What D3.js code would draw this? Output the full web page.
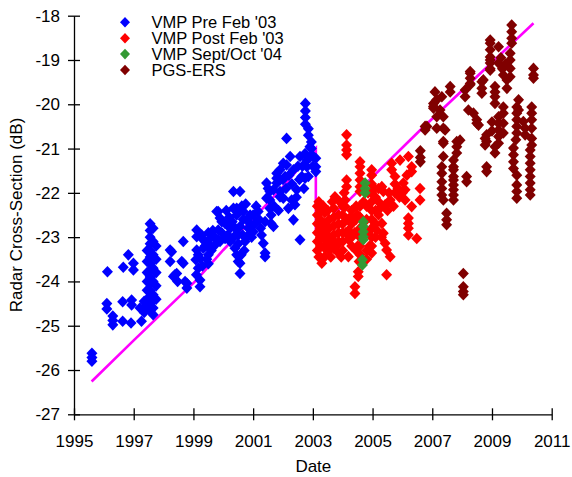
<!DOCTYPE html>
<html><head><meta charset="utf-8">
<script src="https://cdn.jsdelivr.net/npm/d3@7"></script>
<style>
html,body{margin:0;padding:0;background:#fff;}
svg{display:block;font-family:Arial,"Liberation Sans",sans-serif;}
</style></head>
<body>
<svg id="chart" width="572" height="477"></svg>
<script>
// ---- data (year, radar cross-section dB) ----
const xTicks = [1995, 1997, 1999, 2001, 2003, 2005, 2007, 2009, 2011];
const yTicks = [-27, -26, -25, -24, -23, -22, -21, -20, -19, -18];
const seriesNames = ["VMP Pre Feb '03", "VMP Post Feb '03", "VMP Sept/Oct '04", "PGS-ERS"];
const seriesColors = ["#0000ff", "#ff0000", "#339933", "#800000"];

const preFeb03 = [
 [1995.6,-25.62],[1995.6,-25.72],[1995.6,-25.8],
 [1996.12,-23.78],[1996.1,-24.5],[1996.1,-24.62],
 [1996.3,-24.78],[1996.3,-24.88],[1996.3,-24.98],
 [1996.63,-24.46],[1996.63,-24.9],[1996.65,-23.68],[1996.82,-23.4],
 [1996.99,-23.59],[1996.99,-23.74],[1996.93,-24.42],[1996.93,-24.53],[1996.91,-24.94],
 [1997.21,-24.6],[1997.26,-24.9],
 [1997.35,-24.45],[1997.35,-24.6],[1997.35,-24.7],
 [1997.45,-23.3],[1997.45,-23.55],[1997.45,-23.8],[1997.45,-24.0],[1997.45,-24.2],[1997.45,-24.4],[1997.45,-24.55],
 [1997.55,-22.7],[1997.55,-22.85],[1997.55,-23.0],[1997.55,-23.15],[1997.55,-23.3],[1997.55,-23.45],[1997.55,-23.6],
 [1997.55,-23.75],[1997.55,-23.9],[1997.55,-24.05],[1997.55,-24.2],[1997.55,-24.35],[1997.55,-24.5],[1997.55,-24.65],
 [1997.65,-22.8],[1997.65,-23.1],[1997.65,-23.4],[1997.65,-23.7],[1997.65,-24.0],[1997.65,-24.3],[1997.65,-24.6],[1997.65,-24.75],
 [1997.75,-23.2],[1997.75,-23.5],[1997.75,-23.8],[1997.75,-24.1],[1997.75,-24.4],
 [1998.22,-23.29],[1998.22,-23.55],[1998.27,-23.33],[1998.33,-23.89],[1998.38,-23.85],
 [1998.44,-23.82],[1998.47,-24.0],[1998.61,-23.55],[1998.66,-23.1],[1998.66,-23.59],
 [1998.72,-24.0],[1998.78,-24.04],[1998.78,-24.15],
 [1999.11,-22.84],[1999.11,-22.99],[1999.11,-23.29],[1999.08,-23.51],[1999.16,-23.4],[1999.16,-23.7],
 [1999.1,-23.85],[1999.3,-23.65],[1999.45,-23.5],[1999.6,-23.3],
 [1999.22,-23.48],[1999.22,-23.97],[1999.22,-24.12],[1999.28,-22.95],[1999.33,-23.06],[1999.33,-23.25],
 [1999.39,-23.1],[1999.39,-23.2],[1999.5,-22.9],[1999.5,-23.15],[1999.5,-23.4],[1999.5,-23.6],
 [1999.56,-23.03],[1999.65,-22.85],[1999.7,-23.0],[1999.72,-23.18],[1999.78,-22.42],[1999.83,-22.42],[1999.83,-22.84],[1999.83,-23.06],
 [1999.89,-22.57],[1999.89,-23.1],[1999.95,-22.65],[1999.95,-22.9],[2000.06,-22.69],[2000.06,-23.03],
 [2000.1,-22.4],[2000.15,-22.95],[2000.2,-22.55],[2000.3,-22.65],[2000.35,-23.0],[2000.4,-22.8],
 [2000.23,-22.8],[2000.23,-23.1],[2000.34,-21.97],[2000.34,-22.35],[2000.39,-23.25],
 [2000.45,-22.35],[2000.45,-22.5],[2000.45,-23.4],[2000.5,-23.55],[2000.5,-22.95],[2000.5,-23.15],
 [2000.56,-21.97],[2000.56,-22.76],[2000.56,-23.59],[2000.56,-23.82],[2000.6,-23.4],[2000.62,-22.3],[2000.65,-22.95],
 [2000.67,-22.42],[2000.67,-22.6],[2000.7,-23.3],[2000.75,-22.25],[2000.8,-22.6],
 [2000.73,-23.1],[2000.84,-22.8],[2000.84,-22.95],[2000.9,-22.5],[2000.9,-22.7],[2000.95,-23.0],[2001.0,-22.5],[2001.0,-22.88],
 [2001.05,-22.7],[2001.1,-22.3],[2001.2,-22.6],[2001.25,-22.8],
 [2001.17,-22.42],[2001.28,-22.95],[2001.34,-23.14],[2001.4,-23.36],[2001.4,-23.44],[2001.4,-22.65],
 [2001.45,-21.78],[2001.45,-22.12],[2001.5,-21.9],[2001.56,-22.16],[2001.56,-21.97],[2001.56,-22.35],
 [2001.6,-22.5],[2001.6,-22.69],[2001.68,-21.93],[2001.68,-22.76],[2001.7,-22.3],[2001.85,-22.4],
 [2001.79,-21.56],[2001.79,-21.78],[2001.79,-21.67],[2001.9,-21.71],[2001.9,-21.97],[2001.9,-22.09],[2001.9,-21.48],
 [2002.0,-21.7],[2002.1,-21.9],[2002.2,-21.6],[2002.3,-21.8],[2002.45,-22.1],[2002.5,-21.4],[2002.55,-21.7],
 [2002.65,-21.4],[2002.7,-21.9],[2002.9,-21.2],[2003.0,-21.4],
 [2002.01,-21.33],[2002.01,-22.12],[2002.07,-21.63],[2002.12,-20.77],[2002.12,-21.37],[2002.18,-22.35],
 [2002.24,-21.18],[2002.29,-22.16],[2002.35,-21.48],[2002.35,-22.61],[2002.4,-22.27],[2002.46,-21.93],
 [2002.57,-21.18],[2002.57,-23.06],[2002.63,-21.63],[2002.74,-21.67],[2002.74,-21.11],
 [2002.75,-19.98],[2002.75,-20.15],[2002.75,-20.3],[2002.75,-20.45],[2002.8,-21.26],[2002.8,-21.41],
 [2002.85,-20.55],[2002.85,-20.7],[2002.85,-21.63],[2002.9,-20.96],[2002.95,-20.85],[2002.95,-21.0],
 [2003.02,-21.18],[2003.1,-21.22],[2003.1,-21.41],[2003.1,-21.52]
];

const postFeb03 = [
 [2003.15,-22.3],[2003.15,-22.5],[2003.15,-22.7],[2003.15,-22.9],[2003.15,-23.1],[2003.15,-23.3],
 [2003.2,-22.2],[2003.2,-23.45],[2003.35,-22.3],[2003.3,-22.95],[2003.5,-22.4],[2003.45,-23.15],
 [2003.65,-22.2],[2003.6,-23.45],[2003.8,-23.2],[2003.9,-22.2],[2003.95,-23.45],
 [2003.25,-22.4],[2003.25,-22.6],[2003.25,-22.8],[2003.25,-23.0],[2003.25,-23.2],[2003.25,-23.45],[2003.3,-23.59],
 [2003.4,-22.45],[2003.4,-22.7],[2003.4,-22.9],[2003.4,-23.05],[2003.4,-23.25],[2003.4,-23.44],
 [2003.55,-22.6],[2003.55,-22.8],[2003.55,-23.0],[2003.55,-23.15],[2003.55,-23.3],
 [2003.7,-22.35],[2003.7,-22.55],[2003.7,-22.75],[2003.7,-22.95],[2003.7,-23.1],[2003.7,-23.25],[2003.74,-22.09],
 [2003.86,-22.5],[2003.86,-22.7],[2003.86,-22.9],[2003.86,-23.1],[2003.86,-23.36],
 [2004.0,-22.3],[2004.0,-22.5],[2004.0,-22.7],[2004.0,-22.9],[2004.0,-23.1],[2004.0,-23.3],
 [2004.05,-22.0],[2004.08,-22.16],[2004.08,-22.31],[2004.1,-22.9],[2004.25,-22.55],
 [2004.13,-20.69],[2004.13,-20.92],[2004.13,-21.03],[2004.13,-21.14],[2004.13,-21.71],[2004.13,-21.86],
 [2004.19,-23.44],[2004.19,-22.6],[2004.19,-22.85],[2004.19,-23.05],
 [2004.3,-22.4],[2004.3,-22.7],[2004.3,-23.0],[2004.3,-23.2],
 [2004.4,-22.9],[2004.45,-22.3],[2004.45,-22.6],[2004.45,-23.3],[2004.5,-22.5],[2004.5,-23.2],[2004.55,-23.55],
 [2004.41,-24.12],[2004.41,-24.27],[2004.52,-23.89],[2004.52,-23.78],
 [2004.58,-21.3],[2004.58,-21.41],[2004.58,-21.56],[2004.58,-21.71],[2004.58,-21.86],[2004.58,-21.97],
 [2004.58,-22.3],[2004.58,-22.55],[2004.58,-22.8],[2004.58,-23.0],[2004.58,-23.2],[2004.58,-23.4],
 [2004.7,-22.2],[2004.8,-22.3],[2004.8,-22.6],[2004.8,-23.3],[2004.8,-23.5],
 [2004.85,-22.0],[2004.85,-22.9],[2004.9,-23.2],
 [2004.97,-21.48],[2004.97,-21.6],[2004.97,-21.8],[2004.97,-22.0],[2004.97,-22.2],[2004.97,-22.4],
 [2004.97,-22.6],[2004.97,-22.8],[2004.97,-23.0],[2004.97,-23.2],[2004.97,-23.36],
 [2005.05,-21.9],[2005.1,-22.1],[2005.1,-22.4],[2005.1,-22.7],[2005.1,-23.0],[2005.15,-22.85],
 [2005.2,-21.9],[2005.2,-22.2],[2005.2,-22.5],[2005.25,-22.35],[2005.3,-23.0],
 [2005.31,-21.86],[2005.31,-22.69],[2005.36,-21.97],[2005.36,-22.91],[2005.42,-22.27],[2005.42,-23.14],
 [2005.47,-23.29],[2005.47,-23.85],[2005.5,-22.4],[2005.55,-22.0],[2005.59,-22.16],[2005.59,-23.44],
 [2005.64,-21.33],[2005.64,-21.48],[2005.7,-22.3],[2005.75,-21.63],[2005.75,-21.8],[2005.75,-22.0],
 [2005.85,-21.9],[2005.9,-22.1],[2006.0,-22.0],[2006.15,-21.6],
 [2005.92,-21.26],[2006.03,-21.78],[2006.09,-21.93],[2006.09,-22.16],
 [2006.2,-21.18],[2006.2,-22.57],[2006.2,-22.69],[2006.2,-22.8],[2006.2,-22.95],
 [2006.31,-21.41],[2006.31,-21.52],[2006.31,-22.31],[2006.48,-23.03],[2006.59,-21.9],[2006.59,-22.16]
];

const septOct04 = [
 [2004.75,-21.78],[2004.75,-21.9],[2004.75,-22.0],
 [2004.69,-22.65],[2004.69,-22.76],[2004.69,-22.88],[2004.69,-22.99],[2004.69,-23.06],
 [2004.66,-23.51],[2004.66,-23.63]
];

const pgsErs = [
 [2006.6,-21.05],[2006.6,-21.2],[2006.6,-21.3],[2006.76,-20.5],[2006.76,-20.58],[2006.82,-20.5],
 [2007.04,-19.98],[2007.04,-20.05],[2007.04,-20.09],[2007.09,-19.72],
 [2007.15,-19.9],[2007.15,-20.28],[2007.15,-20.54],[2007.26,-20.13],
 [2007.32,-19.83],[2007.32,-21.41],[2007.32,-21.56],[2007.32,-21.75],[2007.32,-21.9],[2007.32,-22.05],
 [2007.37,-20.28],[2007.37,-20.54],[2007.37,-20.84],[2007.37,-20.88],[2007.37,-21.18],[2007.37,-22.16],
 [2007.43,-20.58],[2007.48,-22.46],[2007.48,-22.61],[2007.48,-22.72],[2007.6,-19.6],[2007.6,-19.72],
 [2007.71,-21.26],[2007.71,-21.41],[2007.71,-21.48],[2007.71,-21.63],[2007.71,-21.71],[2007.71,-21.82],
 [2007.71,-21.93],[2007.71,-22.05],[2007.71,-22.16],
 [2007.82,-20.84],[2007.82,-20.96],[2007.82,-21.1],[2007.93,-20.81],
 [2008.04,-23.82],[2008.04,-24.12],[2008.04,-24.23],[2008.04,-24.3],
 [2008.1,-19.68],[2008.1,-19.83],[2008.15,-21.63],[2008.15,-21.75],[2008.21,-20.13],
 [2008.27,-19.26],[2008.27,-19.3],[2008.27,-19.41],[2008.27,-19.53],[2008.27,-19.56],
 [2008.38,-20.2],[2008.49,-20.35],[2008.49,-20.43],[2008.55,-20.47],
 [2008.66,-19.49],[2008.66,-19.64],[2008.66,-19.75],[2008.71,-19.45],
 [2008.77,-20.77],[2008.77,-20.92],[2008.82,-20.69],[2008.82,-20.84],[2008.82,-21.41],[2008.82,-21.52],
 [2008.94,-18.55],[2008.94,-18.62],[2008.94,-18.77],[2008.94,-18.93],[2008.94,-19.0],[2008.94,-19.07],
 [2008.94,-19.2],[2008.94,-19.23],[2009.0,-20.4],[2009.0,-20.6],
 [2009.1,-19.6],[2009.1,-19.72],[2009.1,-19.83],[2009.1,-19.98],[2009.1,-20.96],[2009.1,-21.1],
 [2009.22,-18.7],[2009.22,-19.07],[2009.22,-20.28],[2009.22,-20.43],[2009.22,-20.58],[2009.22,-20.73],[2009.22,-20.88],
 [2009.3,-18.95],[2009.35,-19.2],[2009.45,-19.1],[2009.5,-19.45],
 [2009.38,-19.34],[2009.38,-20.06],[2009.38,-20.2],[2009.38,-20.43],[2009.38,-20.65],[2009.5,-19.64],
 [2009.61,-18.85],[2009.61,-19.0],[2009.61,-19.19],[2009.61,-19.38],
 [2009.66,-18.21],[2009.66,-18.36],[2009.66,-18.51],[2009.66,-18.62],
 [2009.72,-20.99],[2009.72,-21.14],[2009.72,-21.3],[2009.72,-21.45],
 [2009.8,-20.8],[2009.83,-20.06],[2009.83,-20.2],[2009.83,-20.35],[2009.83,-20.5],[2009.83,-20.65],
 [2009.83,-21.6],[2009.83,-21.82],[2009.83,-21.97],[2009.83,-22.12],
 [2009.89,-19.9],[2009.89,-20.13],[2010.05,-20.39],[2010.11,-20.54],[2010.11,-20.69],
 [2010.28,-21.03],[2010.28,-21.18],[2010.28,-21.33],[2010.28,-21.48],[2010.28,-21.63],[2010.28,-21.78],
 [2010.28,-21.93],[2010.28,-22.05],
 [2010.33,-20.06],[2010.33,-20.2],[2010.33,-20.35],[2010.33,-20.54],[2010.33,-20.77],[2010.33,-20.92],
 [2010.39,-19.19],[2010.39,-19.34],[2010.39,-19.41]
];

const trendLine = [
 [1995.59,-26.26],[1997.0,-25.33],[1999.1,-23.97],[2000.0,-23.29],[2001.9,-21.94],[2003.1,-21.0],
 [2003.1,-22.9],[2006.6,-20.58],[2010.39,-18.17]
];

// ---- drawing ----
const svg = d3.select("#chart");
const x = d3.scaleLinear().domain([1995, 2011]).range([74, 551.7]);
const y = d3.scaleLinear().domain([-27, -18]).range([414.3, 15.7]);

const diamond = "M0,-5.8L5.5,0L0,5.8L-5.5,0Z";
const legendDiamond = "M0,-5.3L5,0L0,5.3L-5,0Z";

// trend line (beneath markers)
svg.append("path")
  .datum(trendLine)
  .attr("fill", "none")
  .attr("stroke", "#ff00ff")
  .attr("stroke-width", 2.6)
  .attr("d", d3.line().x(d => x(d[0])).y(d => y(d[1])));

const allSeries = [preFeb03, postFeb03, septOct04, pgsErs];
allSeries.forEach((data, i) => {
  svg.append("g").selectAll("path").data(data).join("path")
    .attr("d", diamond)
    .attr("transform", d => `translate(${x(d[0])},${y(d[1])})`)
    .attr("fill", seriesColors[i]);
});

// axes
const xAxis = svg.append("g")
  .attr("transform", `translate(0,${y(-27)})`)
  .call(d3.axisBottom(x).tickValues(xTicks).tickFormat(d => String(d)).tickSizeInner(6).tickSizeOuter(0));
xAxis.select(".domain").attr("stroke", "#000").attr("stroke-width", 1.3);
xAxis.selectAll(".tick line").attr("y1", -6).attr("stroke", "#000").attr("stroke-width", 1.3);
xAxis.selectAll(".tick text").attr("y", 21).attr("font-size", 17).attr("fill", "#000")
  .attr("font-family", "Arial, 'Liberation Sans', sans-serif");

const yAxis = svg.append("g")
  .attr("transform", `translate(${x(1995)},0)`)
  .call(d3.axisLeft(y).tickValues(yTicks).tickFormat(d => String(d)).tickSizeInner(6).tickSizeOuter(0));
yAxis.select(".domain").attr("stroke", "#000").attr("stroke-width", 1.3);
yAxis.selectAll(".tick line").attr("x1", 6).attr("stroke", "#000").attr("stroke-width", 1.3);
yAxis.selectAll(".tick text").attr("x", -14).attr("font-size", 17).attr("fill", "#000")
  .attr("font-family", "Arial, 'Liberation Sans', sans-serif");

// axis titles
svg.append("text")
  .attr("x", (x(1995) + x(2011)) / 2 + 0.5)
  .attr("y", 471.5)
  .attr("text-anchor", "middle")
  .attr("font-size", 17)
  .text("Date");

svg.append("text")
  .attr("transform", `translate(22,${(y(-27) + y(-18)) / 2}) rotate(-90)`)
  .attr("text-anchor", "middle")
  .attr("font-size", 17)
  .text("Radar Cross-Section (dB)");

// legend
const legend = svg.append("g").attr("transform", "translate(125,22.3)");
seriesNames.forEach((name, i) => {
  const g = legend.append("g").attr("transform", `translate(0,${i * 15.9})`);
  g.append("path").attr("d", legendDiamond).attr("fill", seriesColors[i]);
  g.append("text").attr("x", 26.5).attr("dy", "0.36em").attr("font-size", 16.5).text(name);
});
</script>
</body></html>
